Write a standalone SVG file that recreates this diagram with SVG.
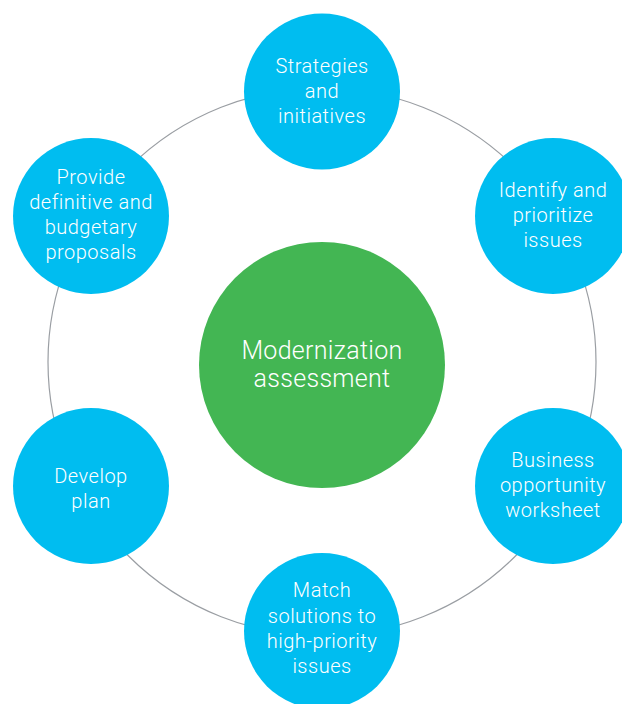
<svg xmlns="http://www.w3.org/2000/svg" width="622" height="704" viewBox="0 0 622 704">
  <style>
    .ring { fill: none; stroke: #9a9ea3; stroke-width: 1.2; }
    .step { fill: #00bdf0; }
    .hub { fill: #43b653; }
    text { font-family: "Roboto", "Liberation Sans", sans-serif; font-weight: 300; fill: #ffffff; text-anchor: middle; }
    .lbl { font-size: 20px; letter-spacing: 0.5px; }
    .hub-lbl { font-size: 25px; letter-spacing: 0.3px; }
  </style>

  <!-- connecting ring -->
  <g id="connectors">
    <circle class="ring" cx="322" cy="362" r="274"/>
  </g>

  <g id="hub">
    <circle class="hub" cx="322" cy="365" r="123"/>
    <text class="hub-lbl" x="322" y="359">Modernization</text>
    <text class="hub-lbl" x="322" y="387">assessment</text>
  </g>

  <g id="strategies">
    <circle class="step" cx="322" cy="91.5" r="78"/>
    <text class="lbl" x="322" y="73">Strategies</text>
    <text class="lbl" x="322" y="98">and</text>
    <text class="lbl" x="322" y="123">initiatives</text>
  </g>

  <g id="identify">
    <circle class="step" cx="553" cy="216" r="78"/>
    <text class="lbl" x="553" y="197">Identify and</text>
    <text class="lbl" x="553" y="222">prioritize</text>
    <text class="lbl" x="553" y="247">issues</text>
  </g>

  <g id="business">
    <circle class="step" cx="553" cy="486" r="78"/>
    <text class="lbl" x="553" y="467">Business</text>
    <text class="lbl" x="553" y="492">opportunity</text>
    <text class="lbl" x="553" y="517">worksheet</text>
  </g>

  <g id="match">
    <circle class="step" cx="322" cy="631" r="78"/>
    <text class="lbl" x="322" y="597">Match</text>
    <text class="lbl" x="322" y="623">solutions to</text>
    <text class="lbl" x="322" y="648">high-priority</text>
    <text class="lbl" x="322" y="673">issues</text>
  </g>

  <g id="develop">
    <circle class="step" cx="91" cy="486" r="78"/>
    <text class="lbl" x="91" y="483">Develop</text>
    <text class="lbl" x="91" y="508">plan</text>
  </g>

  <g id="provide">
    <circle class="step" cx="91" cy="216" r="78"/>
    <text class="lbl" x="91" y="184">Provide</text>
    <text class="lbl" x="91" y="209">definitive and</text>
    <text class="lbl" x="91" y="234">budgetary</text>
    <text class="lbl" x="91" y="259">proposals</text>
  </g>
</svg>
